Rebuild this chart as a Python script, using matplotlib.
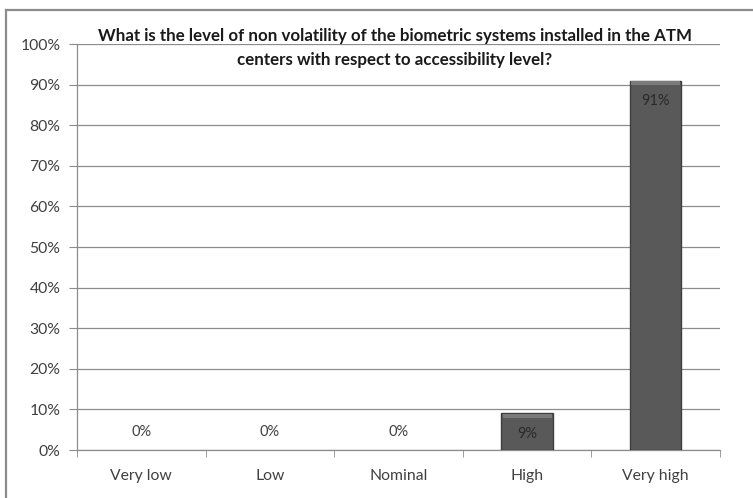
import matplotlib
matplotlib.use("Agg")
import matplotlib.pyplot as plt
from matplotlib.patches import Rectangle
import numpy as np

categories = ["Very low", "Low", "Nominal", "High", "Very high"]
values = [0, 0, 0, 9, 91]
yticks = [0, 10, 20, 30, 40, 50, 60, 70, 80, 90, 100]
title = ("What is the level of non volatility of the biometric systems installed in the ATM\n"
         "centers with respect to accessibility level?")

plt.rcParams["font.family"] = ["Lato", "DejaVu Sans"]

fig = plt.figure(figsize=(7.53, 4.98), dpi=100)
fig.patch.set_facecolor("white")

# outer chart frame (top and left edges)
fig.add_artist(plt.Line2D([6 / 753, 6 / 753], [0, 1 - 10 / 498], color="#8c8c8c", lw=1.6,
                          transform=fig.transFigure))
fig.add_artist(plt.Line2D([6 / 753, 1], [1 - 10 / 498, 1 - 10 / 498], color="#8c8c8c", lw=1.6,
                          transform=fig.transFigure))

ax = fig.add_axes([77 / 753, 1 - 450 / 498, (720 - 77) / 753, (450 - 44) / 498])
x = np.arange(len(categories))
edge_w = [1.0 if v > 0 else 0.0 for v in values]
bars = ax.bar(x, values, width=0.4, color="#595959", edgecolor="#3f3f3f", linewidth=edge_w, zorder=3)

# lighter bevel strip along the top of each bar
for b in bars:
    h = b.get_height()
    if h > 0:
        ax.add_patch(Rectangle((b.get_x() + 0.01, h - 1.0), b.get_width() - 0.02, 0.9,
                               facecolor="#7a7a7a", edgecolor="none", zorder=4))

for xi, v in zip(x, values):
    if v > 0:
        ax.annotate(f"{v}%", (xi, v), xytext=(0, -15), textcoords="offset points",
                    ha="center", va="center", fontsize=10.5, color="#2a2a2a", zorder=5)
    else:
        ax.annotate(f"{v}%", (xi, v), xytext=(0, 13), textcoords="offset points",
                    ha="center", va="center", fontsize=10.5, color="#404040", zorder=5)

ax.set_xlim(-0.5, len(categories) - 0.5)
ax.set_ylim(0, 100)
ax.set_yticks(yticks)
ax.set_yticklabels([f"{t}%" for t in yticks], fontsize=11.3, color="#404040")
ax.set_xticks(x)
ax.set_xticklabels(categories, fontsize=11.3, color="#404040")
ax.tick_params(axis="x", which="major", length=0, pad=14)
ax.set_xticks(np.arange(-0.5, len(categories)), minor=True)
ax.tick_params(axis="x", which="minor", length=5, color="#8c8c8c", direction="out")
ax.tick_params(axis="y", length=6, color="#8c8c8c", pad=6)

ax.grid(axis="y", color="#8c8c8c", linewidth=0.9, zorder=0)
ax.set_axisbelow(True)
for s in ["top", "right"]:
    ax.spines[s].set_visible(False)
for s in ["left", "bottom"]:
    ax.spines[s].set_color("#8c8c8c")
    ax.spines[s].set_linewidth(0.9)

fig.text(395 / 753, 1 - 48 / 498, title, ha="center", va="center", fontsize=12.2,
         fontweight="bold", color="#1a1a1a", linespacing=1.55)

fig.savefig("out.png", dpi=100)
